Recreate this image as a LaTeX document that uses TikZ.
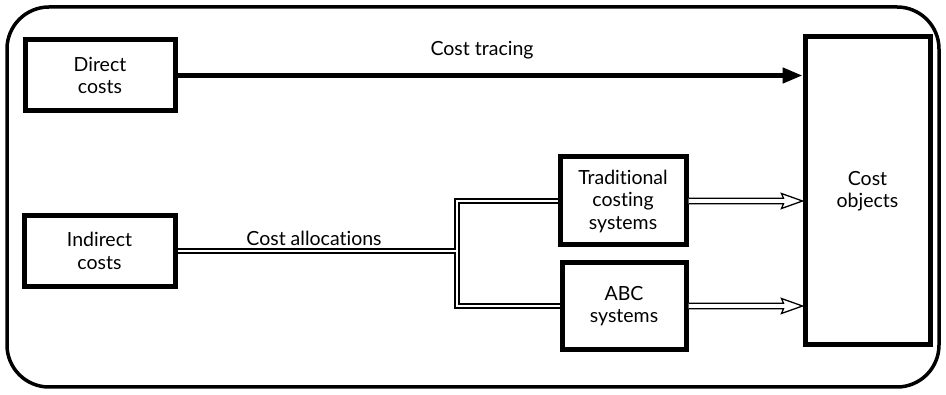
\documentclass[tikz,border=0pt]{standalone}
\usepackage{fontspec}
\setmainfont[Ligatures={NoCommon,NoContextual}]{Lato}
\usetikzlibrary{arrows.meta,calc}
\begin{document}
\begin{tikzpicture}[x=1pt,y=-1pt,
  box/.style={draw=black,line width=5pt,fill=white,align=center,inner sep=0pt,
    font=\fontsize{19.5}{22.5}\selectfont},
  lbl/.style={font=\fontsize{19.5}{22.5}\selectfont,inner sep=0pt},
  dblout/.style={line width=5.4pt,draw=black},
  dblin/.style={line width=2.8pt,draw=white},
  hollow/.style={draw=black,line width=1.3pt,fill=white,line join=miter}]
\useasboundingbox (0,0) rectangle (946,395);
\draw[line width=3.5pt,rounded corners=42pt] (7,7) rectangle (939,387);

\node[box,minimum width=150,minimum height=71] (dir) at (100,75.5) {Direct\\costs};
\node[box,minimum width=151,minimum height=71] (ind) at (99.5,251) {Indirect\\costs};
\node[box,minimum width=126,minimum height=88] (trad) at (623,201) {Traditional\\costing\\systems};
\node[box,minimum width=124,minimum height=87] (abc) at (624,306) {ABC\\systems};
\node[box,minimum width=125,minimum height=308] (obj) at (867.5,191) {Cost\\objects};

\coordinate (j) at (457,0);

% cost tracing
\draw[line width=4.5pt,-{Triangle[length=20pt,width=15pt]}] (dir.east) -- (obj.west |- dir.east);
\node[lbl] (ct) at (482,50) {Cost tracing};

% cost allocations (double lines)
\draw[dblout] (ind.east) -- (j |- ind.east);
\draw[dblout] (trad.west) -| (j |- ind.east) |- (abc.west);
\draw[dblin] (ind.east) -- (j |- ind.east);
\draw[dblin] (trad.west) -| (j |- ind.east) |- (abc.west);
\node[lbl] (ca) at (314,238) {Cost allocations};

% hollow arrows
\foreach \s in {trad,abc}{
  \coordinate (t) at (obj.west |- \s.east);
  \draw[hollow] ($(\s.east)+(0,-2.8)$) -- ($(t)+(-19,-2.8)$) -- ($(t)+(-21,-7.5)$) -- (t)
     -- ($(t)+(-21,7.5)$) -- ($(t)+(-19,2.8)$) -- ($(\s.east)+(0,2.8)$);
}
\end{tikzpicture}
\end{document}
